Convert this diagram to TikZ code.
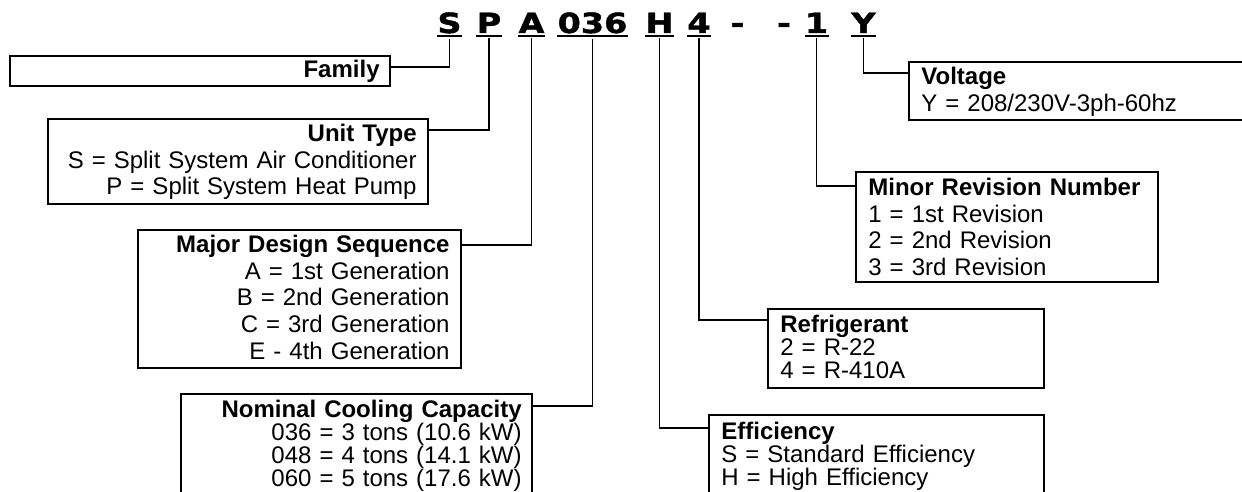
\documentclass[tikz,border=0pt]{standalone}
\usepackage{fontspec}
\setmainfont{Liberation Sans}
\newfontfamily\codefont[FakeStretch=1.2,FakeBold=1.5]{DejaVu Sans}
\usetikzlibrary{positioning}
\tikzset{
  keybox/.style={draw, line width=1pt, inner sep=0pt, anchor=north west},
  keytext/.style={inner sep=0pt, font=\fontsize{12}{13.3}\selectfont},
  tighttext/.style={inner sep=0pt, font=\fontsize{12}{11.5}\selectfont},
  codeseg/.style={inner sep=0pt, anchor=base, font=\codefont\bfseries\fontsize{13.9}{16}\selectfont},
  uline/.style={line width=1pt},
  link/.style={line width=0.6pt}
}

\begin{document}
\begin{tikzpicture}[x=0.5pt,y=-0.5pt]
\useasboundingbox (0,0) rectangle (1242,492);
\clip (0,0) rectangle (1242,492);
% model number segments
\node[codeseg] (cS) at (449.5,33) {S};
\node[codeseg] (cP) at (489,33) {P};
\node[codeseg] (cA) at (531.5,33) {A};
\node[codeseg] (cNum) at (592.5,33) {036};
\node[codeseg] (cH) at (659.5,33) {H};
\node[codeseg] (cRef) at (699,33) {4};
\node[codeseg] (cDashA) at (737.5,33) {-};
\node[codeseg] (cDashB) at (784,33) {-};
\node[codeseg] (cRev) at (816.5,33) {1};
\node[codeseg] (cY) at (863.5,33) {Y};
\draw[uline] ([yshift=-1.3pt]cS.base west) -- ([yshift=-1.3pt]cS.base east);
\draw[uline] ([yshift=-1.3pt]cP.base west) -- ([yshift=-1.3pt]cP.base east);
\draw[uline] ([yshift=-1.3pt]cA.base west) -- ([yshift=-1.3pt]cA.base east);
\draw[uline] ([yshift=-1.3pt]cNum.base west) -- ([yshift=-1.3pt]cNum.base east);
\draw[uline] ([yshift=-1.3pt]cH.base west) -- ([yshift=-1.3pt]cH.base east);
\draw[uline] ([yshift=-1.3pt]cRef.base west) -- ([yshift=-1.3pt]cRef.base east);
\draw[uline] ([yshift=-1.3pt]cRev.base west) -- ([yshift=-1.3pt]cRev.base east);
\draw[uline] ([yshift=-1.3pt]cY.base west) -- ([yshift=-1.3pt]cY.base east);
% left boxes
\node[keybox, minimum width=190pt, minimum height=15pt] (family) at (9,55) {};
\node[keybox, minimum width=190pt, minimum height=42.5pt] (unittype) at (47,118) {};
\node[keybox, minimum width=161.5pt, minimum height=69pt] (majorseq) at (137,229) {};
\node[keybox, minimum width=175.5pt, minimum height=60pt] (capacity) at (180,393) {};
\node[keytext, text width=178pt, align=right, anchor=north east] (familyTxt)
  at ([shift={(-11,5)}]family.north east) {\textbf{Family}};
\node[keytext, text width=178pt, align=right, anchor=north east] (unittypeTxt)
  at ([shift={(-12,6)}]unittype.north east)
  {\textbf{Unit Type}\\S = Split System Air Conditioner\\P = Split System Heat Pump};
\node[keytext, text width=150pt, align=right, anchor=north east] (majorseqTxt)
  at ([shift={(-12,6)}]majorseq.north east)
  {\textbf{Major Design Sequence}\\A = 1st Generation\\B = 2nd Generation\\C = 3rd Generation\\E - 4th Generation};
\node[tighttext, text width=164pt, align=right, anchor=north east] (capacityTxt)
  at ([shift={(-11,7)}]capacity.north east)
  {\textbf{Nominal Cooling Capacity}\\036 = 3 tons (10.6 kW)\\048 = 4 tons (14.1 kW)\\060 = 5 tons (17.6 kW)};
% right boxes
\node[keybox, minimum width=180pt, minimum height=29pt] (voltage) at (908,61) {};
\node[keybox, minimum width=151pt, minimum height=55pt] (minorrev) at (855,171) {};
\node[keybox, minimum width=138pt, minimum height=39.5pt] (refrig) at (767,308) {};
\node[keybox, minimum width=167.5pt, minimum height=60pt] (efficiency) at (708,414) {};
\node[keytext, text width=160pt, align=left, anchor=north west] (voltageTxt)
  at ([shift={(13,6)}]voltage.north west)
  {\textbf{Voltage}\\Y = 208/230V-3ph-60hz};
\node[keytext, text width=140pt, align=left, anchor=north west] (minorrevTxt)
  at ([shift={(13,7)}]minorrev.north west)
  {\textbf{Minor Revision Number}\\1 = 1st Revision\\2 = 2nd Revision\\3 = 3rd Revision};
\node[tighttext, text width=125pt, align=left, anchor=north west] (refrigTxt)
  at ([shift={(13,7)}]refrig.north west)
  {\textbf{Refrigerant}\\2 = R-22\\4 = R-410A};
\node[tighttext, text width=150pt, align=left, anchor=north west] (efficiencyTxt)
  at ([shift={(13,8)}]efficiency.north west)
  {\textbf{Efficiency}\\S = Standard Efficiency\\H = High Efficiency};
% leaders from boxes up to the segments
\draw[link] ([yshift=-6pt]family.north east) -| ([yshift=-2.5pt]cS.south);
\draw[link] ([yshift=-6pt]unittype.north east) -| ([yshift=-2.5pt]cP.south);
\draw[link] ([yshift=-8pt]majorseq.north east) -| ([yshift=-2.5pt]cA.south);
\draw[link] ([yshift=-6.5pt]capacity.north east) -| ([yshift=-2.5pt]cNum.south);
\draw[link] ([yshift=-7pt]efficiency.north west) -| ([yshift=-2.5pt]cH.south);
\draw[link] ([yshift=-6pt]refrig.north west) -| ([yshift=-2.5pt]cRef.south);
\draw[link] ([yshift=-7.5pt]minorrev.north west) -| ([yshift=-2.5pt]cRev.south);
\draw[link] ([yshift=-6pt]voltage.north west) -| ([yshift=-2.5pt]cY.south);
\end{tikzpicture}
\end{document}
